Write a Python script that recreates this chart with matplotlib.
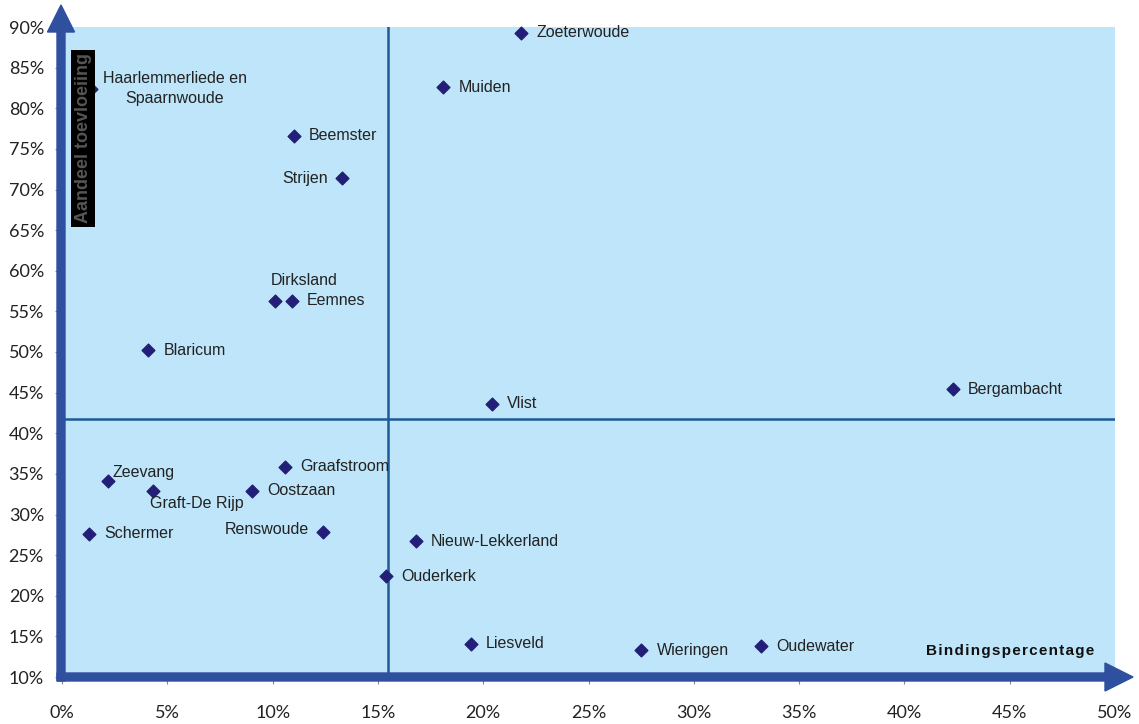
import matplotlib
matplotlib.use("Agg")
import matplotlib.pyplot as plt
from matplotlib.patches import FancyArrow
from matplotlib.transforms import IdentityTransform
from matplotlib.ticker import FuncFormatter, MultipleLocator

# Gemeenten: bindingspercentage (x) en aandeel toevloeiing (y), in procenten
gemeenten = ["Zoeterwoude", "Muiden", "Haarlemmerliede en\nSpaarnwoude", "Beemster",
             "Strijen", "Dirksland", "Eemnes", "Blaricum", "Bergambacht", "Vlist",
             "Graafstroom", "Zeevang", "Graft-De Rijp", "Oostzaan", "Schermer",
             "Renswoude", "Nieuw-Lekkerland", "Ouderkerk", "Liesveld", "Wieringen",
             "Oudewater"]
binding = [21.8, 18.1, 1.4, 11.0, 13.3, 10.1, 10.9, 4.1, 42.3, 20.4,
           10.6, 2.2, 4.3, 9.0, 1.3, 12.4, 16.8, 15.4, 19.4, 27.5, 33.2]
toevloeiing = [89.3, 82.6, 82.4, 76.6, 71.4, 56.3, 56.3, 50.2, 45.4, 43.6,
               35.9, 34.1, 32.9, 32.9, 27.6, 27.8, 26.7, 22.4, 14.1, 13.3, 13.8]

# gemiddelden (kruislijnen)
gem_binding = 15.5
gem_toevloeiing = 41.8

# label offsets in points (dx, dy, ha, va)
label_pos = {
    "Dirksland": (-3, 9, "left", "bottom"),
    "Strijen": (-10, 0, "right", "center"),
    "Renswoude": (-10, 2, "right", "center"),
    "Graft-De Rijp": (-2, -4, "left", "top"),
    "Zeevang": (3, 1, "left", "bottom"),
    "Haarlemmerliede en\nSpaarnwoude": (60, 0, "center", "center"),
}

W, H = 1139, 724
fig = plt.figure(figsize=(W / 100, H / 100), dpi=100)
ax = fig.add_axes([62 / W, 1 - 677 / H, (1115 - 62) / W, (677 - 27) / H])
ax.set_facecolor("#bee5f9")
ax.set_xlim(0, 50)
ax.set_ylim(10, 90)
for s in ax.spines.values():
    s.set_visible(False)

ax.xaxis.set_major_locator(MultipleLocator(5))
ax.yaxis.set_major_locator(MultipleLocator(5))
pct = FuncFormatter(lambda v, p: "%d%%" % round(v))
ax.xaxis.set_major_formatter(pct)
ax.yaxis.set_major_formatter(pct)
ax.tick_params(axis="x", length=5, color="#888888", pad=15, labelsize=13, labelcolor="#222222")
ax.tick_params(axis="y", length=5, color="#888888", pad=8, labelsize=13, labelcolor="#222222")
for lbl in ax.get_xticklabels() + ax.get_yticklabels():
    lbl.set_family("Lato")

ax.axvline(gem_binding, color="#1d5a96", lw=1.8, zorder=2)
ax.axhline(gem_toevloeiing, color="#1d5a96", lw=1.8, zorder=2)

ax.scatter(binding, toevloeiing, marker="D", s=42, color="#231f78", zorder=3, clip_on=False)

for naam, x, y in zip(gemeenten, binding, toevloeiing):
    dx, dy, ha, va = label_pos.get(naam, (11, 0, "left", "center"))
    ax.annotate(naam, (x, y), xytext=(dx, dy), textcoords="offset points",
                ha=ha, va=va, fontsize=11.5, color="#222222",
                family="Liberation Sans", linespacing=1.4, zorder=4)

# thick axis arrows, in pixel coordinates
pix = IdentityTransform()
kleur = "#2f4f9f"
fig.patches.append(FancyArrow(61, H - 681, 0, 681 - 5, width=8, head_width=27,
                              head_length=27, length_includes_head=True, color=kleur,
                              transform=pix, figure=fig))
fig.patches.append(FancyArrow(57, H - 677, 1133 - 57, 0, width=8, head_width=28,
                              head_length=28, length_includes_head=True, color=kleur,
                              transform=pix, figure=fig))

# as-titels
ax.text(0.98, 0.03, "B i n d i n g s p e r c e n t a g e".replace(" ", "\u200a"),
        transform=ax.transAxes, ha="right", va="bottom", fontsize=11,
        fontweight="bold", family=["Liberation Sans", "DejaVu Sans"], color="#111111")
ax.text(1.0, 76.3, "Aandeel toevloeiing", rotation=90, ha="center", va="center",
        fontsize=13, fontweight="bold", family="Liberation Sans", color="#555555",
        bbox=dict(boxstyle="square,pad=0.2", fc="black", ec="none"), zorder=5)

fig.savefig("out.png", dpi=100)
